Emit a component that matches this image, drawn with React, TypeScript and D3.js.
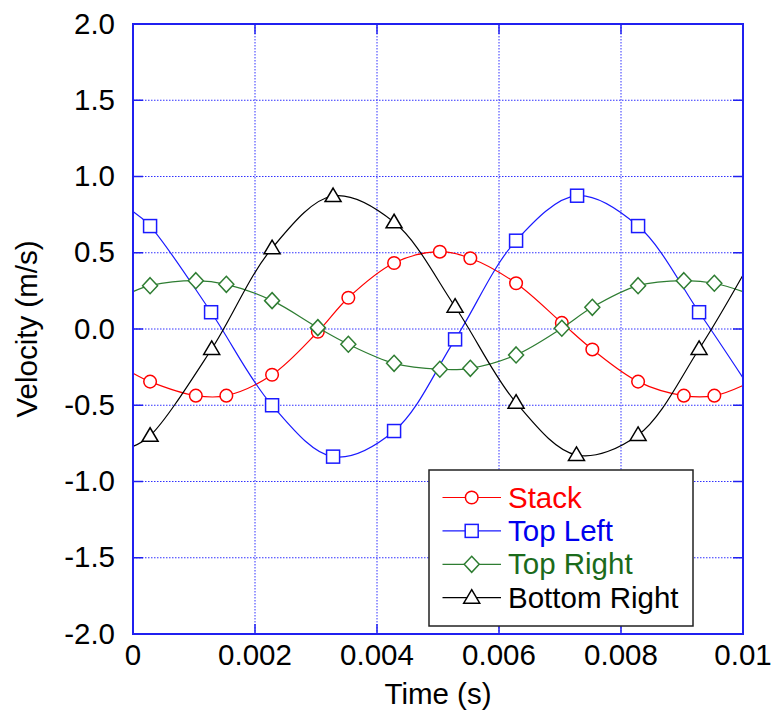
import React from 'react';
import * as d3 from 'd3';

// times in seconds; first and last points are curve ends without a marker
const stackT = [0, 0.00028, 0.00103, 0.00153, 0.00228, 0.00303, 0.00353, 0.00428, 0.00503, 0.00553, 0.00628, 0.00703, 0.00753, 0.00828, 0.00903, 0.00953, 0.01];
const stackV = [-0.29, -0.345, -0.437, -0.437, -0.30, -0.018, 0.205, 0.433, 0.507, 0.464, 0.30, 0.04, -0.134, -0.345, -0.437, -0.437, -0.37];

const topLeftT = [0, 0.00028, 0.00128, 0.00228, 0.00328, 0.00428, 0.00528, 0.00628, 0.00728, 0.00828, 0.00928, 0.01];
const topLeftV = [0.77, 0.675, 0.11, -0.50, -0.837, -0.669, -0.068, 0.579, 0.874, 0.675, 0.11, -0.32];

const topRightT = stackT;
const topRightV = [0.245, 0.284, 0.317, 0.293, 0.186, 0.009, -0.10, -0.225, -0.264, -0.258, -0.17, 0.005, 0.142, 0.284, 0.317, 0.30, 0.245];

const bottomRightT = [0, 0.00028, 0.00129, 0.00228, 0.00328, 0.00428, 0.00528, 0.00628, 0.00727, 0.00828, 0.00928, 0.01];
const bottomRightV = [-0.77, -0.70, -0.131, 0.53, 0.872, 0.70, 0.146, -0.483, -0.826, -0.695, -0.131, 0.354];

const xTicks = [0, 0.002, 0.004, 0.006, 0.008, 0.01];
const xTickLabels = ['0', '0.002', '0.004', '0.006', '0.008', '0.01'];
const yTicks = [2, 1.5, 1, 0.5, 0, -0.5, -1, -1.5, -2];

const W = 774, H = 716;
const left = 133, right = 743, top = 24, bottom = 634;
const FONT = 'Liberation Sans, Arial, sans-serif';
const FS = 29.5;
const AXIS = '#2020f0';
const GRID = '#3030ff';

const x = d3.scaleLinear().domain([0, 0.01]).range([left, right]);
const y = d3.scaleLinear().domain([-2, 2]).range([bottom, top]);

type Shape = 'circle' | 'square' | 'diamond' | 'triangle';

const series = [
  { name: 'Stack', t: stackT, v: stackV, color: '#ff0000', text: '#ff0000', shape: 'circle' as Shape },
  { name: 'Top Left', t: topLeftT, v: topLeftV, color: '#1a1aff', text: '#0000ee', shape: 'square' as Shape },
  { name: 'Top Right', t: topRightT, v: topRightV, color: '#2e7d32', text: '#1b6b1b', shape: 'diamond' as Shape },
  { name: 'Bottom Right', t: bottomRightT, v: bottomRightV, color: '#000000', text: '#000000', shape: 'triangle' as Shape },
];

const Marker = ({ shape, cx, cy, color }: { shape: Shape; cx: number; cy: number; color: string }) => {
  const common = { fill: '#fff', stroke: color, strokeWidth: 1.5 };
  if (shape === 'circle') return <circle cx={cx} cy={cy} r={6.3} {...common} />;
  if (shape === 'square') return <rect x={cx - 6.5} y={cy - 6.5} width={13} height={13} {...common} />;
  if (shape === 'diamond')
    return <path d={`M${cx},${cy - 8}L${cx + 7.5},${cy}L${cx},${cy + 8}L${cx - 7.5},${cy}Z`} {...common} />;
  return <path d={`M${cx},${cy - 8}L${cx + 8},${cy + 5.5}L${cx - 8},${cy + 5.5}Z`} {...common} />;
};

export default function App() {
  const line = d3.line<[number, number]>()
    .x(d => x(d[0]))
    .y(d => y(d[1]))
    .curve(d3.curveCatmullRom.alpha(0.5));

  const legX = 429, legY = 470, legW = 264, legH = 156;

  return (
    <svg width={W} height={H} style={{ position: 'absolute', left: 0, top: 0, background: '#fff' }}
      fontFamily={FONT}>
      {/* grid */}
      {yTicks.filter(v => v !== 2 && v !== -2).map(v => (
        <line key={'gy' + v} x1={left} x2={right} y1={y(v)} y2={y(v)} stroke={GRID} strokeWidth={1} strokeDasharray="1.5,1.5" />
      ))}
      {xTicks.filter(v => v !== 0 && v !== 0.01).map(v => (
        <line key={'gx' + v} y1={top} y2={bottom} x1={x(v)} x2={x(v)} stroke={GRID} strokeWidth={1} strokeDasharray="1.5,1.5" />
      ))}
      {/* inward ticks on all sides */}
      {yTicks.map(v => (
        <g key={'ty' + v} stroke={AXIS} strokeWidth={1.5}>
          <line x1={left} x2={left + 10} y1={y(v)} y2={y(v)} />
          <line x1={right - 10} x2={right} y1={y(v)} y2={y(v)} />
        </g>
      ))}
      {xTicks.map(v => (
        <g key={'tx' + v} stroke={AXIS} strokeWidth={1.5}>
          <line x1={x(v)} x2={x(v)} y1={bottom} y2={bottom - 10} />
          <line x1={x(v)} x2={x(v)} y1={top} y2={top + 10} />
        </g>
      ))}
      {/* series */}
      {series.map(s => (
        <g key={s.name}>
          <path d={line(s.t.map((t, i) => [t, s.v[i]] as [number, number])) || ''} fill="none" stroke={s.color} strokeWidth={1.2} />
          {s.t.slice(1, -1).map((t, i) => (
            <Marker key={i} shape={s.shape} cx={x(t)} cy={y(s.v[i + 1])} color={s.color} />
          ))}
        </g>
      ))}
      {/* frame */}
      <rect x={left} y={top} width={right - left} height={bottom - top} fill="none" stroke={AXIS} strokeWidth={2} />
      {/* tick labels */}
      {yTicks.map(v => (
        <text key={'ly' + v} x={115} y={y(v) + 9.5} textAnchor="end" fontSize={FS} fill="#000">{v.toFixed(1)}</text>
      ))}
      {xTicks.map((v, i) => (
        <text key={'lx' + v} x={x(v)} y={665} textAnchor="middle" fontSize={FS} fill="#000">{xTickLabels[i]}</text>
      ))}
      <text x={(left + right) / 2} y={704} textAnchor="middle" fontSize={FS} fill="#000">Time (s)</text>
      <text transform={`translate(37, ${(top + bottom) / 2}) rotate(-90)`} textAnchor="middle" fontSize={FS} fill="#000">Velocity (m/s)</text>
      {/* legend */}
      <rect x={legX} y={legY} width={legW} height={legH} fill="#fff" stroke="#222" strokeWidth={1.5} />
      {series.map((s, i) => {
        const by = 507.5 + i * 33.4;
        const ly = by - 10;
        return (
          <g key={'leg' + s.name}>
            <line x1={442.5} x2={501} y1={ly} y2={ly} stroke={s.color} strokeWidth={1.2} />
            <Marker shape={s.shape} cx={471.7} cy={ly} color={s.color} />
            <text x={508} y={by} fontSize={FS} fill={s.text}>{s.name}</text>
          </g>
        );
      })}
    </svg>
  );
}
